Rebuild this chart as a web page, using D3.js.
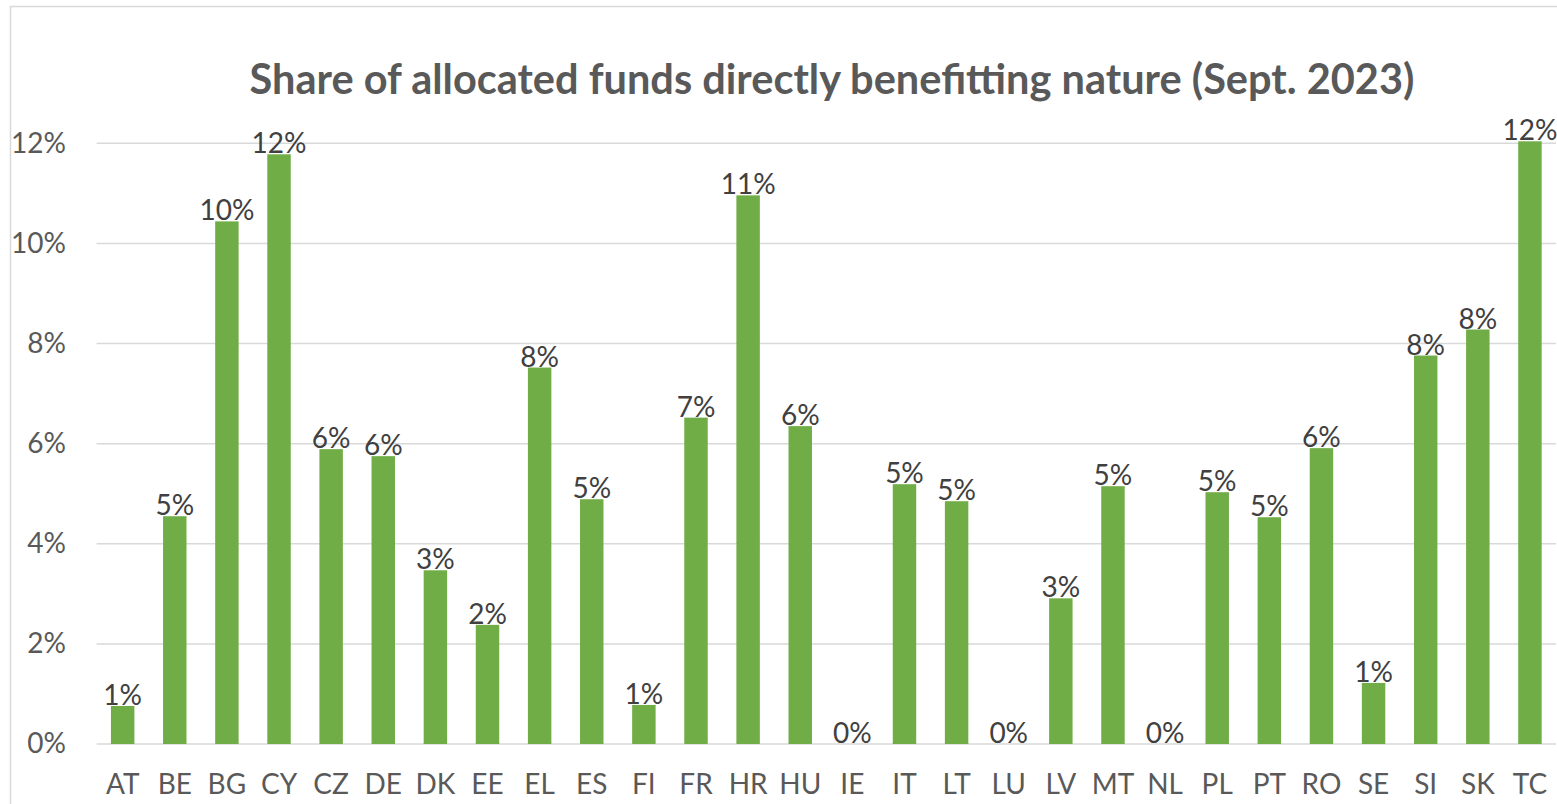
<!DOCTYPE html>
<html>
<head>
<meta charset="utf-8">
<script src="https://cdn.jsdelivr.net/npm/d3@7"></script>
<style>
  body { margin: 0; background: #fff; }
  text { font-family: Lato, "Open Sans", sans-serif; }
</style>
</head>
<body>
<div id="chart-container"></div>
<script>
// countries and share (%)
var countries = ["AT","BE","BG","CY","CZ","DE","DK","EE","EL","ES","FI","FR","HR","HU","IE",
                 "IT","LT","LU","LV","MT","NL","PL","PT","RO","SE","SI","SK","TC"];
var shares = [0.76, 4.55, 10.44, 11.78, 5.89, 5.75, 3.47, 2.38, 7.52, 4.89, 0.78, 6.52, 10.96, 6.35, 0,
              5.19, 4.85, 0, 2.91, 5.15, 0, 5.03, 4.53, 5.91, 1.22, 7.76, 8.28, 12.04];
var yTicks = [0, 2, 4, 6, 8, 10, 12];
var title = "Share of allocated funds directly benefitting nature (Sept. 2023)";

var width = 1557, height = 804;

var svg = d3.select("#chart-container")
  .append("svg")
  .attr("width", width)
  .attr("height", height);

// outer chart border
svg.append("rect")
  .attr("x", 10.5).attr("y", 6.5)
  .attr("width", width + 10).attr("height", height + 10)
  .style("fill", "none")
  .style("stroke", "#d9d9d9")
  .style("stroke-width", 1.5);

var xScale = d3.scaleBand()
  .domain(countries)
  .range([96.6, 1556])
  .paddingInner(0.55)
  .paddingOuter(0.275);

var yScale = d3.scaleLinear()
  .domain([0, 12])
  .range([744, 143.3]);

// gridlines
svg.append("g")
  .selectAll("line")
  .data(yTicks)
  .enter().append("line")
  .attr("x1", 96.6).attr("x2", 1556)
  .attr("y1", function (d) { return yScale(d); })
  .attr("y2", function (d) { return yScale(d); })
  .style("stroke", "#d9d9d9")
  .style("stroke-width", 1.5);

// y axis labels
var yAxis = d3.axisLeft(yScale)
  .tickValues(yTicks)
  .tickFormat(function (d) { return d + "%"; })
  .tickSize(0)
  .tickPadding(0);

var yG = svg.append("g")
  .attr("transform", "translate(66,0)")
  .call(yAxis);
yG.select(".domain").remove();
yG.selectAll("text")
  .style("font-size", "28px")
  .style("fill", "#595959");

// x axis labels
var xAxis = d3.axisBottom(xScale).tickSize(0).tickPadding(30);
var xG = svg.append("g")
  .attr("transform", "translate(0,744)")
  .call(xAxis);
xG.select(".domain").remove();
xG.selectAll("text")
  .style("font-size", "28px")
  .style("fill", "#595959");

// bars
svg.append("g")
  .selectAll("rect")
  .data(shares)
  .enter().append("rect")
  .attr("x", function (d, i) { return xScale(countries[i]); })
  .attr("y", function (d) { return yScale(d); })
  .attr("width", xScale.bandwidth())
  .attr("height", function (d) { return yScale(0) - yScale(d); })
  .style("fill", "#70ad47");

// data labels
svg.append("g")
  .selectAll("text")
  .data(shares)
  .enter().append("text")
  .attr("x", function (d, i) { return xScale(countries[i]) + xScale.bandwidth() / 2; })
  .attr("y", function (d) { return yScale(d) - 1; })
  .style("text-anchor", "middle")
  .style("font-size", "28px")
  .style("fill", "#404040")
  .text(function (d) { return Math.round(d) + "%"; });

// title
var t = svg.append("text")
  .attr("x", 832)
  .attr("y", 94)
  .style("text-anchor", "middle")
  .style("font-size", "38px")
  .style("font-weight", "bold")
  .style("fill", "#595959")
  .text(title);
var tw = t.node().getComputedTextLength();
t.style("font-size", (38 * 1165 / tw) + "px");
</script>
</body>
</html>
